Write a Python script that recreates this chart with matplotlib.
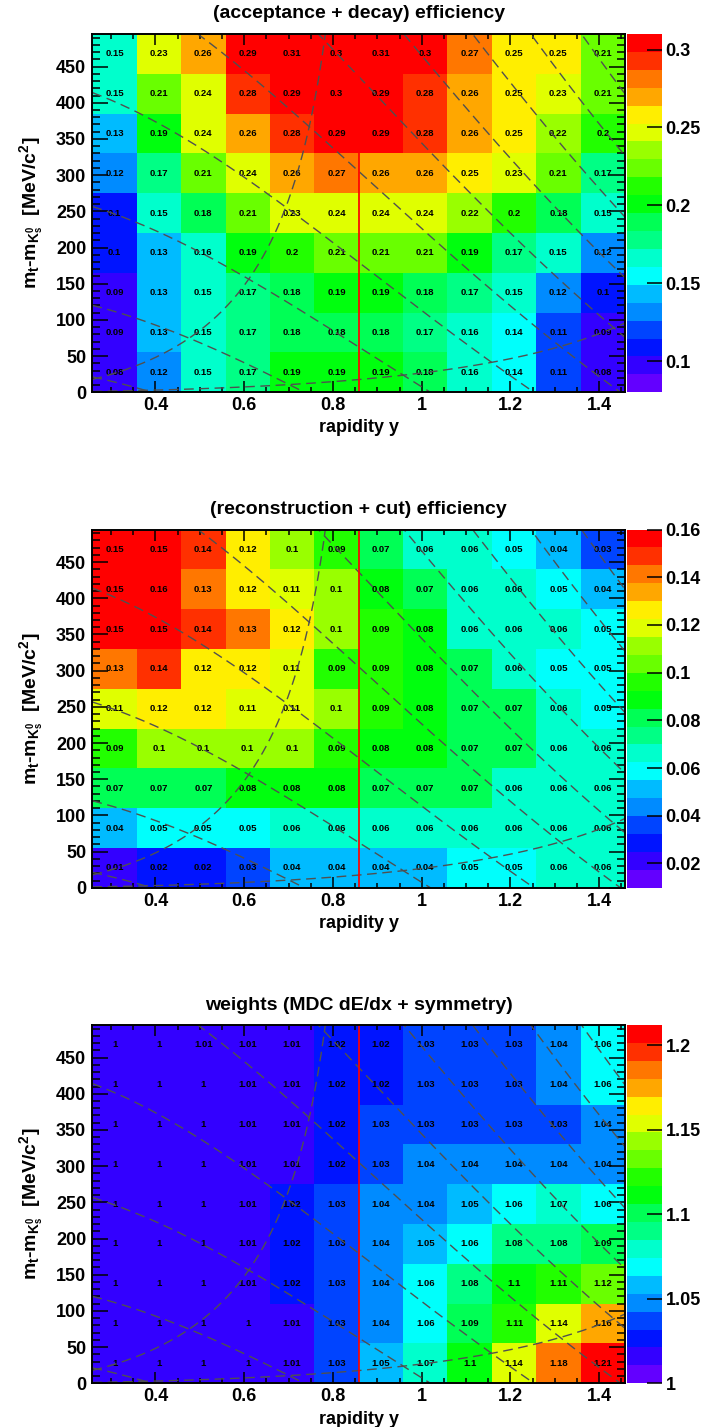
import colorsys
import numpy as np
import matplotlib
matplotlib.use("Agg")
import matplotlib.pyplot as plt
from matplotlib.colors import ListedColormap, BoundaryNorm
from matplotlib.cm import ScalarMappable
from matplotlib.ticker import MultipleLocator, FuncFormatter

plt.rcParams['font.family'] = ['Liberation Sans', 'DejaVu Sans']
plt.rcParams['font.weight'] = 'bold'
plt.rcParams['mathtext.fontset'] = 'custom'
for key in ('rm', 'it', 'bf', 'sf'):
    plt.rcParams['mathtext.' + key] = 'Liberation Sans:bold'

# ---------------------------------------------------------------- binning
Y_CM = 0.858                                   # mid-rapidity
RAPIDITY_EDGES = Y_CM + np.arange(-6, 7) * 0.1  # 12 rapidity bins
MT_EDGES = np.arange(0, 496, 55)                # 9 m_t - m_0 bins [MeV/c^2]

# ---------------------------------------------------------------- maps
# rows listed from the highest m_t - m_0 bin down to the lowest
ACC_DECAY = [
    [0.15, 0.23, 0.26, 0.29, 0.31, 0.30, 0.31, 0.30, 0.27, 0.25, 0.25, 0.21],
    [0.15, 0.21, 0.24, 0.28, 0.29, 0.30, 0.29, 0.28, 0.26, 0.25, 0.23, 0.21],
    [0.13, 0.19, 0.24, 0.26, 0.28, 0.29, 0.29, 0.28, 0.26, 0.25, 0.22, 0.20],
    [0.12, 0.17, 0.21, 0.24, 0.26, 0.27, 0.26, 0.26, 0.25, 0.23, 0.21, 0.17],
    [0.10, 0.15, 0.18, 0.21, 0.23, 0.24, 0.24, 0.24, 0.22, 0.20, 0.18, 0.15],
    [0.10, 0.13, 0.16, 0.19, 0.20, 0.21, 0.21, 0.21, 0.19, 0.17, 0.15, 0.12],
    [0.09, 0.13, 0.15, 0.17, 0.18, 0.19, 0.19, 0.18, 0.17, 0.15, 0.12, 0.10],
    [0.09, 0.13, 0.15, 0.17, 0.18, 0.18, 0.18, 0.17, 0.16, 0.14, 0.11, 0.09],
    [0.08, 0.12, 0.15, 0.17, 0.19, 0.19, 0.19, 0.18, 0.16, 0.14, 0.11, 0.08],
]
RECO_CUT = [
    [0.15, 0.15, 0.14, 0.12, 0.10, 0.09, 0.07, 0.06, 0.06, 0.05, 0.04, 0.03],
    [0.15, 0.16, 0.13, 0.12, 0.11, 0.10, 0.08, 0.07, 0.06, 0.06, 0.05, 0.04],
    [0.15, 0.15, 0.14, 0.13, 0.12, 0.10, 0.09, 0.08, 0.06, 0.06, 0.06, 0.05],
    [0.13, 0.14, 0.12, 0.12, 0.11, 0.09, 0.09, 0.08, 0.07, 0.06, 0.05, 0.05],
    [0.11, 0.12, 0.12, 0.11, 0.11, 0.10, 0.09, 0.08, 0.07, 0.07, 0.06, 0.05],
    [0.09, 0.10, 0.10, 0.10, 0.10, 0.09, 0.08, 0.08, 0.07, 0.07, 0.06, 0.06],
    [0.07, 0.07, 0.07, 0.08, 0.08, 0.08, 0.07, 0.07, 0.07, 0.06, 0.06, 0.06],
    [0.04, 0.05, 0.05, 0.05, 0.06, 0.06, 0.06, 0.06, 0.06, 0.06, 0.06, 0.06],
    [0.01, 0.02, 0.02, 0.03, 0.04, 0.04, 0.04, 0.04, 0.05, 0.05, 0.06, 0.06],
]
WEIGHTS = [
    [1.00, 1.00, 1.01, 1.01, 1.01, 1.02, 1.02, 1.03, 1.03, 1.03, 1.04, 1.06],
    [1.00, 1.00, 1.00, 1.01, 1.01, 1.02, 1.02, 1.03, 1.03, 1.03, 1.04, 1.06],
    [1.00, 1.00, 1.00, 1.01, 1.01, 1.02, 1.03, 1.03, 1.03, 1.03, 1.03, 1.04],
    [1.00, 1.00, 1.00, 1.01, 1.01, 1.02, 1.03, 1.04, 1.04, 1.04, 1.04, 1.04],
    [1.00, 1.00, 1.00, 1.01, 1.02, 1.03, 1.04, 1.04, 1.05, 1.06, 1.07, 1.06],
    [1.00, 1.00, 1.00, 1.01, 1.02, 1.03, 1.04, 1.05, 1.06, 1.08, 1.08, 1.09],
    [1.00, 1.00, 1.00, 1.01, 1.02, 1.03, 1.04, 1.06, 1.08, 1.10, 1.11, 1.12],
    [1.00, 1.00, 1.00, 1.00, 1.01, 1.03, 1.04, 1.06, 1.09, 1.11, 1.14, 1.16],
    [1.00, 1.00, 1.00, 1.00, 1.01, 1.03, 1.05, 1.07, 1.10, 1.14, 1.18, 1.21],
]

TITLES = ["(acceptance + decay) efficiency",
          "(reconstruction + cut) efficiency",
          "weights (MDC dE/dx + symmetry)"]
Z_RANGES = [(0.08, 0.31), (0.0098, 0.16), (1.0, 1.212)]
Z_TICKS = [[0.1, 0.15, 0.2, 0.25, 0.3],
           [0.02, 0.04, 0.06, 0.08, 0.1, 0.12, 0.14, 0.16],
           [1.0, 1.05, 1.1, 1.15, 1.2]]

# kinematic guide lines: constant lab momentum and constant lab polar angle
K0_MASS = 497.6                                   # MeV/c^2
MOMENTA = [200, 400, 600, 800, 1000, 1200, 1400, 1600, 1800, 2000]  # MeV/c
POLAR_ANGLES = [15, 45]                           # degrees

X_LABEL = "rapidity y"
Y_LABEL = r"$m_{t}$-$m_{K^{0}_{s}}$  [MeV/c$^{2}$]"

# ---------------------------------------------------------------- palette
# 50-colour violet -> red spectrum (full saturation, lightness 0.5)
spectrum = [colorsys.hls_to_rgb((280 - (i + 1) * 5.6) / 360.0, 0.5, 1.0)
            for i in range(50)]
N_LEVELS = 20
level_colors = [spectrum[int((k + 0.99) * 50 / N_LEVELS)] for k in range(N_LEVELS)]
bar_cmap = ListedColormap(level_colors)
# cells are filled with the colour of the next contour up
cell_cmap = ListedColormap(level_colors[1:] + [level_colors[-1]])

# ---------------------------------------------------------------- figure
W, H = 707, 1427
fig = plt.figure(figsize=(W / 100, H / 100), dpi=100)
fig.patch.set_facecolor('white')

FRAME_LEFT, FRAME_RIGHT = 92.4, 625.0
FRAME_TOP, FRAME_BOTTOM = 34.0, 392.3
PAD_STEP = 495.5
BAR_LEFT, BAR_WIDTH = 627.0, 35.0

x_centres = 0.5 * (RAPIDITY_EDGES[:-1] + RAPIDITY_EDGES[1:])
y_centres = 0.5 * (MT_EDGES[:-1] + MT_EDGES[1:])
y_fine = np.linspace(RAPIDITY_EDGES[0], RAPIDITY_EDGES[-1], 600)

fmt = FuncFormatter(lambda v, _: "{:g}".format(round(v, 4)))

for i, (grid, title, (zmin, zmax), zticks) in enumerate(
        zip([ACC_DECAY, RECO_CUT, WEIGHTS], TITLES, Z_RANGES, Z_TICKS)):
    top = FRAME_TOP + i * PAD_STEP
    bottom = FRAME_BOTTOM + i * PAD_STEP
    rect_y = 1 - bottom / H
    rect_h = (bottom - top) / H
    ax = fig.add_axes([FRAME_LEFT / W, rect_y, (FRAME_RIGHT - FRAME_LEFT) / W, rect_h])
    cax = fig.add_axes([BAR_LEFT / W, rect_y, BAR_WIDTH / W, rect_h])

    values = np.flipud(np.array(grid, dtype=float))
    levels = np.linspace(zmin, zmax, N_LEVELS + 1)
    norm = BoundaryNorm(levels, N_LEVELS, clip=True)

    ax.pcolormesh(RAPIDITY_EDGES, MT_EDGES, values, cmap=cell_cmap, norm=norm,
                  shading='flat', antialiased=False, linewidth=0, zorder=1)

    for r, yc in enumerate(y_centres):
        for c, xc in enumerate(x_centres):
            ax.text(xc, yc, "{:g}".format(values[r, c]), ha='center', va='center',
                    fontsize=6.8, fontweight='bold', color='black', zorder=3)

    # constant-momentum curves
    for p in MOMENTA:
        mt = np.sqrt(p ** 2 + K0_MASS ** 2) / np.cosh(y_fine)
        t = mt - K0_MASS
        t[t < 0] = np.nan
        ax.plot(y_fine, t, color='#505050', lw=1.0, dashes=(7, 4), zorder=4)
    # constant polar-angle curves
    for theta in POLAR_ANGLES:
        s = np.sinh(y_fine) * np.tan(np.radians(theta))
        with np.errstate(invalid='ignore', divide='ignore'):
            t = K0_MASS / np.sqrt(1 - s ** 2) - K0_MASS
        t[s >= 0.995] = np.nan
        ax.plot(y_fine, t, color='#505050', lw=1.0, dashes=(7, 4), zorder=4)

    # mid-rapidity marker
    ax.plot([Y_CM, Y_CM], [MT_EDGES[0], MT_EDGES[-1]], color='#ff0000',
            lw=1.25, zorder=5, solid_capstyle='butt')

    ax.set_xlim(RAPIDITY_EDGES[0], RAPIDITY_EDGES[-1])
    ax.set_ylim(MT_EDGES[0], MT_EDGES[-1])
    ax.xaxis.set_major_locator(MultipleLocator(0.2))
    ax.xaxis.set_minor_locator(MultipleLocator(0.05))
    ax.yaxis.set_major_locator(MultipleLocator(50))
    ax.yaxis.set_minor_locator(MultipleLocator(10))
    ax.xaxis.set_major_formatter(fmt)
    ax.yaxis.set_major_formatter(fmt)
    ax.tick_params(which='both', direction='in', top=True, right=True,
                   width=1.1, labelsize=13, color='black')
    ax.tick_params(axis='x', which='major', length=7.7, pad=3.5)
    ax.tick_params(axis='x', which='minor', length=3.8)
    ax.tick_params(axis='y', which='major', length=11.5, pad=4.5)
    ax.tick_params(axis='y', which='minor', length=5.8)
    for lab in ax.get_xticklabels() + ax.get_yticklabels():
        lab.set_fontweight('bold')
    for sp in ax.spines.values():
        sp.set_linewidth(1.4)
        sp.set_zorder(6)

    sm = ScalarMappable(norm=norm, cmap=bar_cmap)
    cbar = fig.colorbar(sm, cax=cax, ticks=zticks)
    cbar.outline.set_visible(False)
    cbar.formatter = fmt
    cbar.update_ticks()
    cax.yaxis.set_ticks_position('right')
    cax.tick_params(direction='in', length=10.8, width=1.1, pad=2.5,
                    labelsize=13, color='black')
    cax.minorticks_off()
    for lab in cax.get_yticklabels():
        lab.set_fontweight('bold')

    x_mid = 0.5 * (FRAME_LEFT + FRAME_RIGHT)
    fig.text(x_mid / W, 1 - (14 + i * PAD_STEP) / H, title, ha='center',
             va='center', fontsize=14, fontweight='bold')
    fig.text(x_mid / W, 1 - (428 + i * PAD_STEP) / H, X_LABEL, ha='center',
             va='center', fontsize=13, fontweight='bold')
    fig.text(32 / W, 1 - (0.5 * (top + bottom)) / H, Y_LABEL, ha='center',
             va='center', rotation=90, fontsize=14, fontweight='bold')

fig.savefig('out.png', dpi=100, facecolor='white')
